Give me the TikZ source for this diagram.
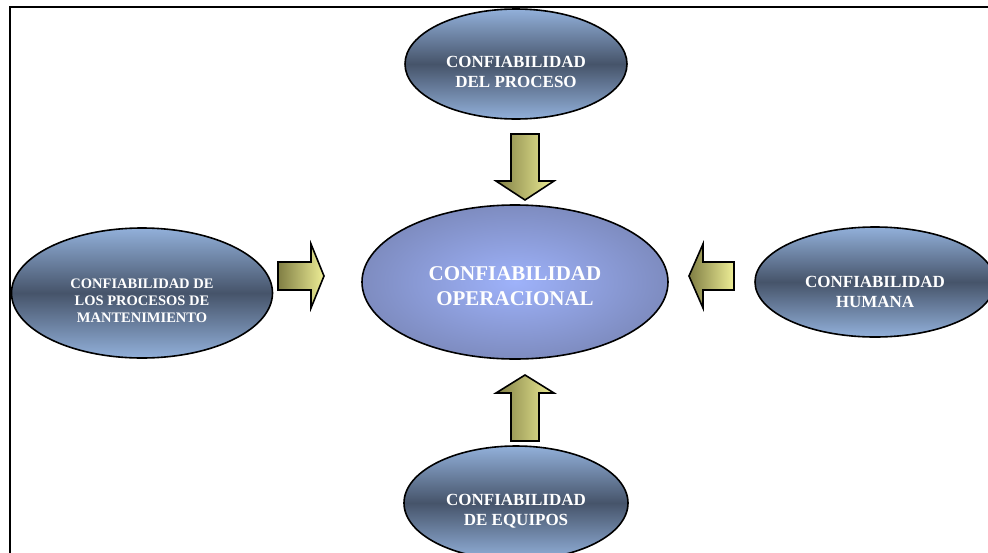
\documentclass[tikz,border=0pt]{standalone}
\usepackage{fontspec}
\setmainfont{Liberation Serif}
\usetikzlibrary{shapes.geometric}
\definecolor{elLight}{RGB}{146,176,218}
\definecolor{elDark}{RGB}{70,84,106}
\definecolor{ctrIn}{RGB}{158,178,250}
\definecolor{ctrOut}{RGB}{126,140,192}
\definecolor{arDark}{RGB}{128,126,68}
\definecolor{arLight}{RGB}{238,238,150}
\begin{document}
\begin{tikzpicture}[x=1pt,y=-1pt,
  sat/.style={ellipse, draw=black, line width=1.6pt,
    top color=elLight, bottom color=elLight, middle color=elDark,
    inner sep=0pt},
  ctr/.style={ellipse, draw=black, line width=1.6pt,
    inner color=ctrIn, outer color=ctrOut, inner sep=0pt},
  lab/.style={text=white, font=\bfseries\fontsize{17}{20}\selectfont,
    align=center, inner sep=0pt},
  blockarrow/.style={draw=black, line width=1.6pt, line join=miter,
    left color=arDark, right color=arLight},
  frameline/.style={draw=black, line width=2.6pt}]
\clip (0,0) rectangle (988,552);
\fill[white] (0,0) rectangle (988,552);
\draw[frameline] (10,553) -- (10,7) -- (990,7);

\node[ctr, minimum width=306pt, minimum height=154pt,
  label={[lab, font=\bfseries\fontsize{21}{25}\selectfont, yshift=-4pt]center:{CONFIABILIDAD\\OPERACIONAL}}]
  (op) at (515,282) {};
\node[sat, minimum width=222pt, minimum height=110pt,
  label={[lab, yshift=-8pt]center:{CONFIABILIDAD\\DEL PROCESO}}]
  (pro) at (516,64) {};
\node[sat, minimum width=261pt, minimum height=130pt,
  label={[lab, font=\bfseries\fontsize{14.5}{17}\selectfont, yshift=-8pt]center:{CONFIABILIDAD DE\\LOS PROCESOS DE\\MANTENIMIENTO}}]
  (man) at (142,293) {};
\node[sat, minimum width=240pt, minimum height=110pt,
  label={[lab, yshift=-10pt]center:{CONFIABILIDAD\\HUMANA}}]
  (hum) at (875,282) {};
\node[sat, minimum width=224pt, minimum height=114pt,
  label={[lab, yshift=-8pt]center:{CONFIABILIDAD\\DE EQUIPOS}}]
  (equ) at (516,503) {};

% block arrows
\path[blockarrow] (511,134) -- (539,134) -- (539,181) -- (554,181)
  -- (525,200) -- (496,181) -- (511,181) -- cycle;
\path[blockarrow] (511,441) -- (539,441) -- (539,393) -- (554,393)
  -- (525,375) -- (496,393) -- (511,393) -- cycle;
\path[blockarrow] (278,262) -- (311,262) -- (311,244) -- (324,276)
  -- (311,308) -- (311,290) -- (278,290) -- cycle;
\path[blockarrow] (734,262) -- (703,262) -- (703,244) -- (689,276)
  -- (703,308) -- (703,290) -- (734,290) -- cycle;
\end{tikzpicture}
\end{document}
